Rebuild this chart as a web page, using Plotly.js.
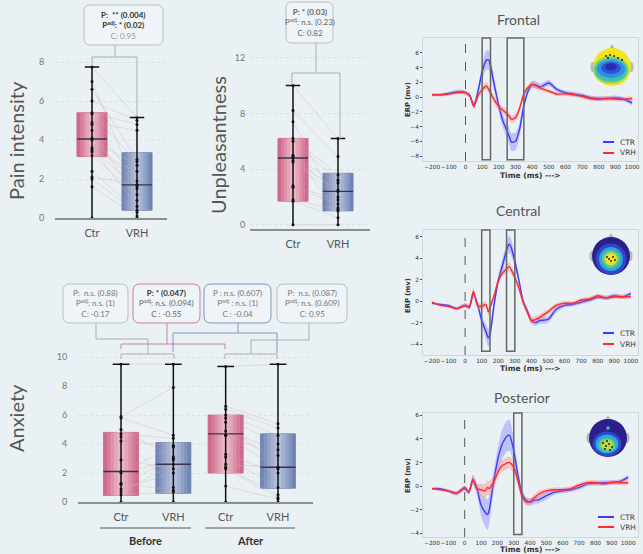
<!DOCTYPE html>
<html><head><meta charset="utf-8">
<script src="https://cdn.plot.ly/plotly-3.0.1.min.js"></script>
<style>html,body{margin:0;padding:0;background:#e9f1f4;}#chart{width:643px;height:554px;}</style>
</head><body><div id="chart"></div>
<script>
// ---------------- DATA ----------------
// Pain intensity (box statistics)
const painGroups = ['Ctr', 'VRH'];
const painQ1 = [3.15, 0.4];
const painMedian = [4.05, 1.7];
const painQ3 = [5.4, 3.35];
const painLower = [0, 0];
const painUpper = [7.75, 5.15];
const painCtr = [7.75, 7.0, 6.6, 6.0, 5.4, 5.35, 4.9, 4.8, 4.5, 4.1, 4.0, 3.6, 3.5, 3.4, 3.2, 2.4, 2.1, 2.0, 1.6, 0.0];
const painVRH = [5.15, 1.5, 3.0, 5.0, 4.8, 2.9, 4.5, 1.9, 0.9, 1.7, 2.7, 0.6, 1.6, 2.4, 1.2, 0.4, 1.7, 0.3, 0.1, 0.0];

// Unpleasantness
const unplGroups = ['Ctr', 'VRH'];
const unplQ1 = [1.7, 1.0];
const unplMedian = [4.8, 2.4];
const unplQ3 = [6.2, 3.7];
const unplLower = [0, 0];
const unplUpper = [10.0, 6.2];
const unplCtr = [10.0, 8.2, 7.4, 6.2, 6.0, 5.0, 4.9, 4.8, 4.6, 4.5, 2.8, 2.7, 1.8, 1.7, 0.0];
const unplVRH = [6.2, 4.9, 1.2, 3.6, 3.2, 1.0, 3.0, 2.4, 2.5, 2.0, 1.8, 1.5, 1.1, 0.5, 0.0];

// Anxiety (Before Ctr, Before VRH, After Ctr, After VRH)
const anxGroups = ['Ctr', 'VRH', 'Ctr', 'VRH'];
const anxPhases = ['Before', 'After'];
const anxQ1 = [0.45, 0.6, 2.0, 0.95];
const anxMedian = [2.1, 2.6, 4.7, 2.4];
const anxQ3 = [4.8, 4.1, 6.0, 4.7];
const anxLower = [0, 0, 0, 0];
const anxUpper = [9.5, 9.5, 9.35, 9.5];
const anxBeforeCtr = [9.5, 5.9, 5.8, 5.0, 4.7, 4.5, 4.2, 2.9, 2.1, 2.0, 1.3, 1.2, 0.9, 0.7, 0.5, 0.0];
const anxBeforeVRH = [9.5, 7.9, 4.6, 3.1, 4.4, 1.0, 3.9, 2.3, 3.8, 2.9, 0.8, 3.0, 2.0, 2.6, 0.7, 0.0];
const anxAfterCtr  = [9.35, 6.6, 6.4, 6.0, 5.8, 5.5, 4.9, 4.6, 4.6, 3.3, 3.1, 2.6, 2.4, 2.3, 1.1, 0.0];
const anxAfterVRH  = [9.5, 5.4, 5.1, 4.6, 4.0, 2.4, 3.6, 3.2, 2.3, 2.0, 1.0, 2.4, 0.5, 0.3, 0.2, 0.0];

// ERP time axis (ms)
const erpTime = [-200,-150,-100,-50,0,25,50,75,100,125,140,150,175,200,225,250,265,275,300,325,350,375,400,425,450,500,550,600,650,700,750,800,850,900,950,1000];
// Frontal
const frontalCTR = [0.3,0.3,0.5,0.7,0.6,0.2,-1.1,0.8,3.4,5.0,5.0,4.2,1.4,-1.2,-3.3,-4.6,-5.5,-6.1,-6.0,-4.3,-1.2,0.8,1.7,1.6,1.4,1.9,1.0,0.6,0.4,0.2,-0.1,-0.2,-0.2,-0.1,-0.3,-0.8];
const frontalCTRci = [0.2,0.2,0.25,0.3,0.3,0.3,0.4,0.6,1.0,1.3,1.3,1.2,0.9,0.8,0.9,1.0,1.1,1.2,1.2,1.0,0.7,0.5,0.5,0.5,0.4,0.4,0.3,0.3,0.3,0.3,0.3,0.3,0.3,0.3,0.3,0.3];
const frontalVRH = [0.3,0.3,0.4,0.6,0.6,0.2,-1.3,0.2,1.0,1.5,1.0,0.6,-0.5,-1.3,-1.8,-2.3,-2.7,-3.0,-2.8,-1.5,0.4,1.3,1.7,1.5,1.2,0.8,0.4,0.45,0.3,0.1,-0.2,-0.3,-0.2,-0.3,-0.3,-0.2];
const frontalVRHci = [0.2,0.2,0.2,0.2,0.3,0.3,0.3,0.4,0.5,0.5,0.5,0.5,0.5,0.5,0.5,0.5,0.5,0.5,0.5,0.5,0.4,0.4,0.4,0.4,0.3,0.3,0.3,0.3,0.3,0.3,0.3,0.3,0.3,0.3,0.3,0.3];
const frontalWindows = [[100,150],[250,350]];
// Central
const centralCTR = [-0.2,-0.3,-0.4,-0.7,-0.4,-0.6,0.7,-0.3,-1.8,-2.8,-3.4,-3.1,-0.3,1.9,3.3,4.7,5.3,5.1,3.7,1.9,0.0,-0.9,-1.8,-2.0,-1.8,-1.7,-0.75,-0.4,-0.3,-0.1,0.1,0.35,0.3,0.5,0.4,0.7];
const centralCTRci = [0.1,0.1,0.1,0.15,0.2,0.2,0.3,0.3,0.5,0.7,0.8,0.8,0.6,0.5,0.6,0.7,0.8,0.8,0.6,0.4,0.3,0.3,0.3,0.3,0.3,0.3,0.3,0.2,0.2,0.2,0.2,0.2,0.2,0.2,0.2,0.2];
const centralVRH = [-0.1,-0.4,-0.5,-0.7,-0.4,-0.5,0.9,-0.4,-0.5,-0.3,-1.0,-0.6,0.5,1.9,2.6,3.0,3.2,3.0,2.2,1.2,-0.1,-1.0,-1.8,-1.7,-1.5,-1.0,-0.4,-0.2,-0.2,0.1,0.2,0.5,0.3,0.4,0.4,0.4];
const centralVRHci = [0.1,0.1,0.1,0.15,0.2,0.2,0.3,0.3,0.3,0.3,0.35,0.35,0.3,0.3,0.35,0.4,0.4,0.4,0.35,0.3,0.3,0.3,0.3,0.3,0.3,0.25,0.2,0.2,0.2,0.2,0.2,0.2,0.2,0.2,0.2,0.2];
const centralWindows = [[100,150],[250,300]];
// Posterior
const posteriorCTR = [-0.2,-0.2,-0.4,-0.6,-0.2,-0.5,0.5,-0.2,-1.6,-2.2,-2.4,-2.0,0.2,2.1,3.4,4.1,4.3,4.3,3.0,1.0,-0.6,-1.2,-1.35,-1.2,-1.15,-0.8,-0.5,-0.4,-0.3,-0.1,0.2,0.25,0.3,0.3,0.4,0.75];
const posteriorCTRci = [0.1,0.1,0.15,0.2,0.2,0.2,0.4,0.5,0.9,1.2,1.3,1.2,0.9,1.0,1.2,1.3,1.3,1.3,1.0,0.6,0.4,0.3,0.3,0.3,0.3,0.3,0.2,0.2,0.2,0.2,0.2,0.2,0.2,0.2,0.2,0.2];
const posteriorVRH = [-0.2,-0.3,-0.4,-0.6,-0.1,-0.5,0.6,-0.2,-0.3,-0.4,-0.1,-0.2,0.3,1.1,1.7,1.9,2.0,2.0,1.6,0.5,-0.8,-1.3,-1.3,-1.0,-0.7,-0.4,-0.3,-0.3,-0.2,0.1,0.3,0.3,0.2,0.35,0.3,0.3];
const posteriorVRHci = [0.1,0.1,0.1,0.15,0.2,0.2,0.4,0.4,0.5,0.6,0.6,0.6,0.5,0.5,0.5,0.5,0.5,0.5,0.5,0.4,0.4,0.3,0.3,0.3,0.3,0.2,0.2,0.2,0.2,0.2,0.2,0.2,0.2,0.2,0.2,0.2];
const posteriorWindows = [[300,350]];
const erpTicks = [-200,-100,0,100,200,300,400,500,600,700,800,900,1000];

// ---------------- HELPERS ----------------
const W = 643, H = 554;
const X = p => p / W, Y = p => 1 - p / H;
const traces = [];
const shapes = [];
const annotations = [];

const SH = {
  Ctr: {edge: '#c8668a', fills: ['#cf6a8b', '#d67b99', '#de8fa8', '#e5a4b8', '#eab5c5']},
  VRH: {edge: '#687ca9', fills: ['#7185b4', '#8094bf', '#91a3c9', '#a2b1d2', '#b1bedb']}
};
const layerW = [0.67, 0.54, 0.41, 0.28, 0.14];

function pairTrace(xa, ya, pos, pairs, color, width) {
  pairs.forEach(([ia, ib, a, b]) => {
    const xs = [], ys = [];
    a.forEach((v, i) => { xs.push(pos[ia], pos[ib], null); ys.push(v, b[i], null); });
    traces.push({type:'scatter', mode:'lines', x:xs, y:ys, xaxis:xa, yaxis:ya, hoverinfo:'skip', showlegend:false,
      line:{color:color, width:width}});
  });
}

function drawBoxes(xa, ya, pos, kinds, q1, med, q3, lo, hi, pairs, pts) {
  pairTrace(xa, ya, pos, pairs, 'rgba(190,140,158,0.35)', 0.6);
  pos.forEach((c, i) => {
    const s = SH[kinds[i]];
    layerW.forEach((w, j) => {
      traces.push({type:'box', xaxis:xa, yaxis:ya, x:[c], q1:[q1[i]], median:[med[i]], q3:[q3[i]],
        lowerfence:[q1[i]], upperfence:[q3[i]], width:w, fillcolor:s.fills[j], whiskerwidth:0,
        line:{color: j === 0 ? s.edge : s.fills[j], width: j === 0 ? 0.8 : 0},
        hoverinfo:'skip', showlegend:false, boxpoints:false});
    });
  });
  pairTrace(xa, ya, pos, pairs, 'rgba(235,200,210,0.3)', 0.5);
  pos.forEach((c, i) => {
    traces.push({type:'scatter', mode:'lines', x:[c, c], y:[lo[i], hi[i]], xaxis:xa, yaxis:ya, cliponaxis:false,
      hoverinfo:'skip', showlegend:false, line:{color:'#111', width:1.5}});
    traces.push({type:'scatter', mode:'lines', x:[c - 0.16, c + 0.16], y:[hi[i], hi[i]], xaxis:xa, yaxis:ya,
      hoverinfo:'skip', showlegend:false, line:{color:'#111', width:1.5}});
    traces.push({type:'scatter', mode:'lines', x:[c - 0.335, c + 0.335], y:[med[i], med[i]], xaxis:xa, yaxis:ya,
      hoverinfo:'skip', showlegend:false, line:{color:'#3a3050', width:1.4}});
  });
  pts.forEach(([ib, vals]) => {
    traces.push({type:'scatter', mode:'markers', x:vals.map(() => pos[ib]), y:vals, xaxis:xa, yaxis:ya, cliponaxis:false,
      hoverinfo:'skip', showlegend:false, marker:{color:'#111', size:3}});
  });
}

function erp(xa, ya, t, v, ci, color, band) {
  traces.push({type:'scatter', mode:'lines', x:t, y:v.map((d, i) => d + ci[i]), xaxis:xa, yaxis:ya,
    line:{width:0, shape:'spline', smoothing:0.7}, hoverinfo:'skip', showlegend:false});
  traces.push({type:'scatter', mode:'lines', x:t, y:v.map((d, i) => d - ci[i]), xaxis:xa, yaxis:ya, fill:'tonexty',
    fillcolor:band, line:{width:0, shape:'spline', smoothing:0.7}, hoverinfo:'skip', showlegend:false});
  traces.push({type:'scatter', mode:'lines', x:t, y:v, xaxis:xa, yaxis:ya,
    line:{color:color, width:1.4, shape:'spline', smoothing:0.7}, hoverinfo:'skip', showlegend:false});
}

function poly(pts, color, width) {
  const d = pts.map((p, i) => (i ? 'L' : 'M') + X(p[0]).toFixed(5) + ',' + Y(p[1]).toFixed(5)).join(' ');
  shapes.push({type:'path', xref:'paper', yref:'paper', path:d, line:{color:color, width:width || 1}});
}
function rrect(x0, y0, x1, y1, r, color) {
  const P = (x, y) => X(x).toFixed(5) + ',' + Y(y).toFixed(5);
  const d = 'M' + P(x0 + r, y0) + ' L' + P(x1 - r, y0) + ' Q' + P(x1, y0) + ' ' + P(x1, y0 + r) +
    ' L' + P(x1, y1 - r) + ' Q' + P(x1, y1) + ' ' + P(x1 - r, y1) + ' L' + P(x0 + r, y1) +
    ' Q' + P(x0, y1) + ' ' + P(x0, y1 - r) + ' L' + P(x0, y0 + r) + ' Q' + P(x0, y0) + ' ' + P(x0 + r, y0) + ' Z';
  shapes.push({type:'path', xref:'paper', yref:'paper', path:d, fillcolor:'rgba(255,255,255,0.25)', line:{color:color, width:1}});
}
function txt(x, y, text, size, color, opts) {
  annotations.push(Object.assign({xref:'paper', yref:'paper', x:X(x), y:Y(y), text:text, showarrow:false,
    xanchor:'center', yanchor:'middle', font:{family:'Lato, "Open Sans", sans-serif', size:size, color:color}}, opts || {}));
}
function ell(cx, cy, rx, ry, color) {
  shapes.push({type:'circle', xref:'paper', yref:'paper', x0:X(cx - rx), x1:X(cx + rx), y0:Y(cy + ry), y1:Y(cy - ry),
    fillcolor:color, line:{width:0}});
}
function dot(cx, cy) { ell(cx, cy, 0.9, 0.9, '#111'); }

// ---------------- BOX PLOTS ----------------
drawBoxes('x', 'y', [0, 1], painGroups, painQ1, painMedian, painQ3, painLower, painUpper,
  [[0, 1, painCtr, painVRH]], [[0, painCtr], [1, painVRH]]);
drawBoxes('x2', 'y2', [0, 1], unplGroups, unplQ1, unplMedian, unplQ3, unplLower, unplUpper,
  [[0, 1, unplCtr, unplVRH]], [[0, unplCtr], [1, unplVRH]]);
drawBoxes('x3', 'y3', [0, 1, 2, 3], anxGroups, anxQ1, anxMedian, anxQ3, anxLower, anxUpper,
  [[0, 1, anxBeforeCtr, anxBeforeVRH], [2, 3, anxAfterCtr, anxAfterVRH]],
  [[0, anxBeforeCtr], [1, anxBeforeVRH], [2, anxAfterCtr], [3, anxAfterVRH]]);

// ---------------- ERP ----------------
const CB = '#3b3bff', CR = '#ff2a2a', BB = 'rgba(110,110,255,0.35)', BR = 'rgba(255,110,110,0.35)';
erp('x4', 'y4', erpTime, frontalCTR, frontalCTRci, CB, BB);
erp('x4', 'y4', erpTime, frontalVRH, frontalVRHci, CR, BR);
erp('x5', 'y5', erpTime, centralCTR, centralCTRci, CB, BB);
erp('x5', 'y5', erpTime, centralVRH, centralVRHci, CR, BR);
erp('x6', 'y6', erpTime, posteriorCTR, posteriorCTRci, CB, BB);
erp('x6', 'y6', erpTime, posteriorVRH, posteriorVRHci, CR, BR);

[['x4', 'y4', frontalWindows, 0.01], ['x5', 'y5', centralWindows, 0.03], ['x6', 'y6', posteriorWindows, 0.02]].forEach(([xa, ya, wins, b]) => {
  wins.forEach(w => shapes.push({type:'rect', xref:xa, yref:ya + ' domain', x0:w[0], x1:w[1], y0:b, y1:1,
    line:{color:'#666', width:1.5}, fillcolor:'rgba(0,0,0,0)'}));
  shapes.push({type:'line', xref:xa, yref:ya + ' domain', x0:0, x1:0, y0:0, y1:1, line:{color:'#555', width:1, dash:'dash'}});
});

// ---------------- AXES ----------------
const boxY = (dom, rng, dtick, standoff) => ({domain:dom, range:rng, dtick:dtick, tick0:0, showline:false, zeroline:false,
  showgrid:true, gridcolor:'rgba(210,218,222,0.7)', griddash:'dot', gridwidth:1, ticks:'outside', ticklen:standoff,
  tickcolor:'rgba(0,0,0,0)', tickfont:{family:'Lato, sans-serif', size:9, color:'#777'}, fixedrange:true});
const boxX = (dom, rng, vals, labels) => ({domain:dom, range:rng, type:'linear', tickvals:vals, ticktext:labels,
  showline:true, linecolor:'#8a8f93', linewidth:1.5, zeroline:false, showgrid:false, ticks:'outside', ticklen:4,
  tickcolor:'rgba(0,0,0,0)', tickfont:{family:'Lato, sans-serif', size:11, color:'#555'}, fixedrange:true});
const erpX = (dom, rng, anchor) => ({domain:dom, range:rng, anchor:anchor, tickvals:erpTicks, tickangle:0, showline:true, mirror:true,
  linecolor:'#cfd6da', linewidth:1, zeroline:false, showgrid:false, ticks:'',
  tickfont:{family:'DejaVu Sans, sans-serif', size:5.8, color:'#333'}});
const erpY = (dom, rng, anchor, vals) => ({domain:dom, range:rng, anchor:anchor, tickvals:vals, showline:true, mirror:true,
  linecolor:'#cfd6da', linewidth:1, zeroline:false, showgrid:false, ticks:'outside', ticklen:2, tickcolor:'#444',
  tickfont:{family:'DejaVu Sans, sans-serif', size:5.8, color:'#333'}});

const layout = {
  width:W, height:H, margin:{l:0, r:0, t:0, b:0}, paper_bgcolor:'#e9f1f4', plot_bgcolor:'rgba(0,0,0,0)',
  showlegend:false, boxmode:'overlay', boxgap:0,
  xaxis: boxX([X(55), X(167)], [-(92 - 55) / 45, 1 + (167 - 137) / 45], [0, 1], painGroups),
  yaxis: Object.assign(boxY([Y(218), Y(42.5)], [0, 9], 2, 8), {anchor:'x'}),
  xaxis2: Object.assign(boxX([X(250), X(370)], [-(293 - 250) / 45, 1 + (370 - 338) / 45], [0, 1], unplGroups), {anchor:'y2'}),
  yaxis2: Object.assign(boxY([Y(229), Y(39.5)], [-0.3, 13.3], 4, 2), {anchor:'x2'}),
  xaxis3: Object.assign(boxX([X(78), X(313)], [-(121 - 78) / 52.3, 3 + (313 - 278) / 52.3], [0, 1, 2, 3], anxGroups), {anchor:'y3'}),
  yaxis3: Object.assign(boxY([Y(502), Y(345)], [0, 10.83], 2, 8), {anchor:'x3'}),
  xaxis4: erpX([X(423), X(638)], [-255, 1035], 'y4'),
  yaxis4: erpY([Y(161), Y(38)], [-8.67, 8.0], 'x4', [-8, -6, -4, -2, 0, 2, 4, 6]),
  xaxis5: erpX([X(423), X(638)], [-254, 1043], 'y5'),
  yaxis5: erpY([Y(355), Y(230)], [-5.0, 6.6], 'x5', [-4, -2, 0, 2, 4, 6]),
  xaxis6: erpX([X(423), X(638)], [-255, 1060], 'y6'),
  yaxis6: erpY([Y(537), Y(413)], [-4.3, 6.2], 'x6', [-4, -2, 0, 2, 4, 6]),
  shapes: shapes, annotations: annotations
};

// ---------------- ANNOTATION BOXES & BRACKETS ----------------
const G = '#a9aeb2', RED = '#cf8096', BLU = '#8494bb';
rrect(84, 5, 163, 45, 6, '#b9bec1');
poly([[115, 45], [115, 57]], G); poly([[92, 66], [92, 57], [137, 57], [137, 117]], G);
txt(123.5, 25.5, '<b>P:  ** (0.004)</b><br><b>P<sup>adj</sup>: * (0.02)</b><br><span style="color:#999">C: 0.95</span>', 8, '#333');

rrect(286, 2, 333, 43, 6, '#b9bec1');
poly([[316, 43], [316, 73]], G); poly([[292, 85], [292, 73], [340, 73], [340, 139]], G);
txt(309.5, 22.5, '<b>P: * (0.03)</b><br>P<sup>adj</sup>: n.s. (0.23)<br>C: 0.82', 8, '#666');

rrect(63, 284, 128, 323, 7, '#b9bec1');
rrect(133, 284, 200, 323, 7, RED);
rrect(204, 284, 271, 323, 7, BLU);
rrect(277, 284, 347, 323, 7, '#b9bec1');
txt(95.5, 303.5, 'P:  n.s. (0.88)<br>P<sup>adj</sup>: n.s. (1)<br>C: -0.17', 8, '#777');
txt(166.5, 303.5, '<b style="color:#333">P: * (0.047)</b><br>P<sup>adj</sup>: n.s. (0.094)<br>C : -0.55', 8, '#666');
txt(237.5, 303.5, 'P : n.s. (0.607)<br>P<sup>adj</sup> : n.s. (1)<br>C : -0.04', 8, '#777');
txt(312, 303.5, 'P:  n.s. (0.087)<br>P<sup>adj</sup>: n.s. (0.609)<br>C: 0.95', 8, '#777');
poly([[96, 323], [96, 339], [148, 339], [148, 354]], G); poly([[121, 359], [121, 354], [174, 354], [174, 359]], G);
poly([[167, 323], [167, 344]], RED); poly([[121, 349], [121, 344], [225, 344], [225, 349]], RED);
poly([[238, 323], [238, 333]], BLU); poly([[173, 352], [173, 333], [277, 333], [277, 353]], BLU);
poly([[309, 323], [309, 340], [251, 340], [251, 354]], G); poly([[225, 359], [225, 354], [277, 354], [277, 359]], G);

// group labels
poly([[100, 528], [191, 528]], '#555', 1); poly([[205, 528], [295, 528]], '#555', 1);
txt(145, 540, '<b>' + anxPhases[0] + '</b>', 11, '#333');
txt(251, 540, '<b>' + anxPhases[1] + '</b>', 11, '#333');

// y titles
txt(16, 141, 'Pain intensity', 20, '#555', {textangle:-90});
txt(218, 145, 'Unpleasantness', 20, '#555', {textangle:-90});
txt(16, 418, 'Anxiety', 20, '#555', {textangle:-90});

// ERP titles and labels
txt(518, 19, 'Frontal', 14, '#555');
txt(518, 211, 'Central', 14, '#555');
txt(522, 397, 'Posterior', 14, '#555');
[100, 296, 476].forEach(yy =>
  txt(408, yy, '<b>ERP (mv)</b>', 7, '#333', {textangle:-90, font:{family:'DejaVu Sans, sans-serif', size:6.8, color:'#333'}}));
[175, 368, 549].forEach(yy =>
  txt(530, yy, '<b>Time (ms) ---></b>', 8, '#333', {font:{family:'DejaVu Sans, sans-serif', size:7.5, color:'#333'}}));

// manual legends
[[142, 153, 603], [333, 344, 603], [517, 527, 598]].forEach(([y1, y2, x0]) => {
  poly([[x0, y1], [614, y1]], CB, 2); poly([[x0, y2], [614, y2]], CR, 2);
  txt(618, y1, 'CTR', 8, '#444', {xanchor:'left', font:{family:'DejaVu Sans, sans-serif', size:7.5, color:'#444'}});
  txt(618, y2, 'VRH', 8, '#444', {xanchor:'left', font:{family:'DejaVu Sans, sans-serif', size:7.5, color:'#444'}});
});

// topographic maps
function head(cx, cy, r) {
  ell(cx - r, cy, 2.5, 5, '#b5b8bb'); ell(cx + r, cy, 2.5, 5, '#b5b8bb');
  shapes.push({type:'path', xref:'paper', yref:'paper',
    path:'M' + X(cx - 3) + ',' + Y(cy - r + 1) + ' L' + X(cx) + ',' + Y(cy - r - 4) + ' L' + X(cx + 3) + ',' + Y(cy - r + 1) + ' Z',
    fillcolor:'#b5b8bb', line:{width:0}});
}
head(612, 67, 19);
ell(612, 67, 19, 19, '#f3e41e');
ell(611, 70, 18, 14, '#a6d84a'); ell(611, 70, 16.5, 12, '#3fc1b8'); ell(611, 69, 14, 9, '#2f8fe0');
ell(611, 68, 10, 6, '#2f55d0'); ell(611, 67, 6, 3.5, '#2a2ab8');
[[606, 56], [610, 55], [614, 56], [618, 58], [622, 60], [608, 58]].forEach(p => dot(p[0], p[1]));

head(611, 256, 19);
ell(611, 256, 19, 19, '#2c1f8c');
ell(611, 259, 15.5, 15.5, '#2e46c8'); ell(611, 259, 12, 12, '#2ea6dc'); ell(611, 259, 9, 9, '#62c98a');
ell(611, 259, 6.5, 6.5, '#d6e030'); ell(611, 259, 4.5, 4.5, '#f3e41e');
[[607, 257], [609, 259], [613, 257], [615, 260], [611, 261]].forEach(p => dot(p[0], p[1]));

head(608, 438, 19);
ell(608, 438, 19, 19, '#2c1f8c');
ell(607, 444, 14.5, 12.5, '#2e46c8'); ell(607, 444, 11.5, 9.5, '#2ea6dc'); ell(607, 445, 8.5, 7, '#5fc98e');
ell(607, 445, 6, 5, '#b8dc3c'); ell(608, 428, 1.8, 1.8, '#3fb0e0');
[[603, 443], [606, 446], [609, 444], [612, 447], [605, 449], [610, 450], [607, 441]].forEach(p => dot(p[0], p[1]));

Plotly.newPlot('chart', traces, layout, {displayModeBar:false, staticPlot:true});
</script>
</body></html>
